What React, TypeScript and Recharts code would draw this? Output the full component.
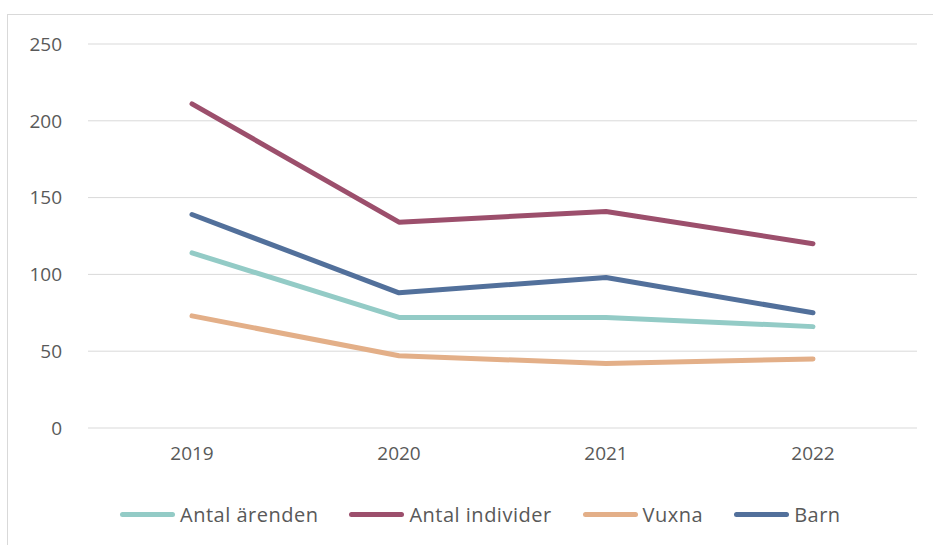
import { LineChart, Line, XAxis, YAxis, CartesianGrid, Legend } from "recharts";

const years = ["2019", "2020", "2021", "2022"];
const antalArenden = [114, 72, 72, 66];
const antalIndivider = [211, 134, 141, 120];
const vuxna = [73, 47, 42, 45];
const barn = [139, 88, 98, 75];
const yTicks = [0, 50, 100, 150, 200, 250];

const series = [
  { key: "arenden", name: "Antal ärenden", color: "#93CBC6" },
  { key: "individer", name: "Antal individer", color: "#9C4F6C" },
  { key: "vuxna", name: "Vuxna", color: "#E3AF88" },
  { key: "barn", name: "Barn", color: "#52709B" },
];

const data = years.map((year, i) => ({
  year,
  arenden: antalArenden[i],
  individer: antalIndivider[i],
  vuxna: vuxna[i],
  barn: barn[i],
}));

const FONT = "'Open Sans', sans-serif";
const TEXT = "#595959";

function ChartLegend() {
  return (
    <div style={{ display: "flex", justifyContent: "flex-start", alignItems: "center", gap: 31, height: 30, paddingLeft: 120 }}>
      {series.map((s) => (
        <div key={s.key} style={{ display: "flex", alignItems: "center", gap: 5 }}>
          <span style={{ display: "inline-block", width: 55, height: 5, borderRadius: 3, background: s.color }} />
          <span style={{ fontFamily: FONT, fontSize: 20, letterSpacing: 0.5, color: TEXT }}>{s.name}</span>
        </div>
      ))}
    </div>
  );
}

export default function App() {
  return (
    <div style={{ position: "absolute", left: 0, top: 0, width: 933, height: 545, background: "#fff", overflow: "hidden" }}>
      <div
        style={{
          position: "absolute",
          left: 7,
          top: 14,
          width: 940,
          height: 540,
          borderLeft: "1px solid #d9d9d9",
          borderTop: "1px solid #d9d9d9",
        }}
      />
      <div style={{ position: "absolute", left: 0, top: 0 }}>
        <LineChart width={933} height={545} data={data} margin={{ top: 44, right: 16, bottom: 16, left: 0 }}>
          <CartesianGrid stroke="#d9d9d9" vertical={false} />
          <XAxis
            dataKey="year"
            axisLine={false}
            tickLine={false}
            tickSize={0}
            tickMargin={19}
            height={71}
            padding={{ left: 104, right: 104 }}
            tick={{ fill: TEXT, fontSize: 19, fontFamily: FONT }}
          />
          <YAxis
            domain={[0, 250]}
            ticks={yTicks}
            axisLine={false}
            tickLine={false}
            tickSize={0}
            tickMargin={26}
            width={88}
            tick={{ fill: TEXT, fontSize: 19, fontFamily: FONT }}
          />
          <Legend verticalAlign="bottom" height={30} content={() => <ChartLegend />} />
          {series.map((s) => (
            <Line
              key={s.key}
              type="linear"
              dataKey={s.key}
              name={s.name}
              stroke={s.color}
              strokeWidth={5}
              strokeLinecap="round"
              strokeLinejoin="round"
              dot={false}
              activeDot={false}
              isAnimationActive={false}
            />
          ))}
        </LineChart>
      </div>
    </div>
  );
}
